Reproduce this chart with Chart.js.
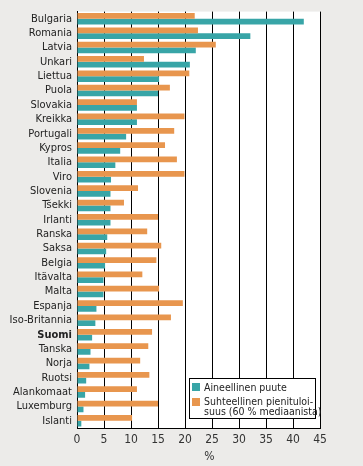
<!DOCTYPE html>
<html><head><meta charset="utf-8">
<script src="https://cdn.jsdelivr.net/npm/chart.js@4"></script>
<style>
html,body{margin:0;padding:0;background:#ecebe9;}
#wrap{width:363px;height:466px;position:relative;}
</style></head>
<body><div id="wrap"><canvas id="c" width="363" height="466"></canvas></div>
<script>
const countries = ["Bulgaria","Romania","Latvia","Unkari","Liettua","Puola","Slovakia","Kreikka","Portugali","Kypros","Italia","Viro","Slovenia","Tšekki","Irlanti","Ranska","Saksa","Belgia","Itävalta","Malta","Espanja","Iso-Britannia","Suomi","Tanska","Norja","Ruotsi","Alankomaat","Luxemburg","Islanti"];
const lowIncome = [21.8,22.4,25.7,12.4,20.8,17.2,11.1,19.9,18.0,16.3,18.5,19.9,11.3,8.7,15.0,13.0,15.6,14.7,12.1,15.2,19.6,17.4,13.9,13.2,11.7,13.4,11.1,15.0,10.2];
const deprivation = [42.0,32.1,22.0,20.9,15.2,15.0,11.1,11.1,9.1,8.0,7.1,6.3,6.2,6.2,6.2,5.6,5.4,5.2,4.9,4.9,3.6,3.4,2.8,2.5,2.3,1.7,1.5,1.2,0.8];
const xTicks = [0,5,10,15,20,25,30,35,40,45];
const xTitle = "%";
const legendLabels = ["Aineellinen puute", ["Suhteellinen pienituloi-","suus (60 % mediaanista)"]];
const ORANGE = "#e8964e", TEAL = "#38a5a7";
const FONT = "'Liberation Sans Narrow','DejaVu Sans Condensed','Liberation Sans',sans-serif";

const bgPlugin = {
  id:'bg',
  beforeDraw(chart){
    const {ctx, chartArea:a} = chart;
    ctx.save();
    ctx.fillStyle = "#ecebe9";
    ctx.fillRect(0,0,chart.width,chart.height);
    ctx.fillStyle = "#ffffff";
    ctx.fillRect(a.left,a.top,a.right-a.left,a.bottom-a.top);
    ctx.restore();
  }
};
const legendPlugin = {
  id:'customLegend',
  afterDraw(chart){
    const {ctx, chartArea:a} = chart;
    const w = 127, h = 41;
    const x = a.right - 4 - w, y = a.bottom - 9 - h;
    ctx.save();
    ctx.fillStyle = "#fff";
    ctx.fillRect(x,y,w,h);
    ctx.strokeStyle = "#000";
    ctx.lineWidth = 1;
    ctx.strokeRect(x+0.5,y+0.5,w-1,h-1);
    ctx.font = "10.5px " + FONT;
    ctx.fillStyle = TEAL;
    ctx.fillRect(x+3,y+5,8,8);
    ctx.fillStyle = ORANGE;
    ctx.fillRect(x+3,y+20,8,8);
    ctx.fillStyle = "#222";
    ctx.textBaseline = "middle";
    ctx.fillText(legendLabels[0], x+15, y+10);
    ctx.fillText(legendLabels[1][0], x+15, y+24);
    ctx.fillText(legendLabels[1][1], x+15, y+34);
    // axis title
    ctx.fillStyle = "#333";
    ctx.font = "12px " + FONT;
    ctx.textAlign = "center";
    ctx.fillText(xTitle, (a.left+a.right)/2 + 11, 457);
    ctx.restore();
  }
};

new Chart(document.getElementById('c'), {
  type:'bar',
  data:{
    labels: countries,
    datasets:[
      {label:legendLabels[1].join(''), data: lowIncome, backgroundColor: ORANGE, barPercentage:1.0, categoryPercentage:0.8},
      {label:legendLabels[0], data: deprivation, backgroundColor: TEAL, barPercentage:1.0, categoryPercentage:0.8}
    ]
  },
  options:{
    indexAxis:'y',
    responsive:false,
    animation:false,
    layout:{padding:{top:3,right:43,left:0,bottom:0}},
    plugins:{legend:{display:false},tooltip:{enabled:false}},
    scales:{
      x:{
        min:0,max:45,
        afterBuildTicks(s){ s.ticks = xTicks.map(v=>({value:v})); },
        afterFit(s){ s.height = 38; },
        grid:{color:"#000",lineWidth:1,drawTicks:false},
        border:{color:"#000",width:1},
        ticks:{color:"#333",font:{family:FONT,size:12},padding:5},
        title:{display:false}
      },
      y:{
        afterFit(s){ s.width = 77; },
        grid:{display:false,drawTicks:false},
        border:{color:"#000",width:1},
        ticks:{color:"#222",padding:5,autoSkip:false,
          font:(c)=>({family:FONT,size:11,weight: countries[c.index]==="Suomi" ? "bold":"normal"})}
      }
    }
  },
  plugins:[bgPlugin,legendPlugin]
});
</script></body></html>
